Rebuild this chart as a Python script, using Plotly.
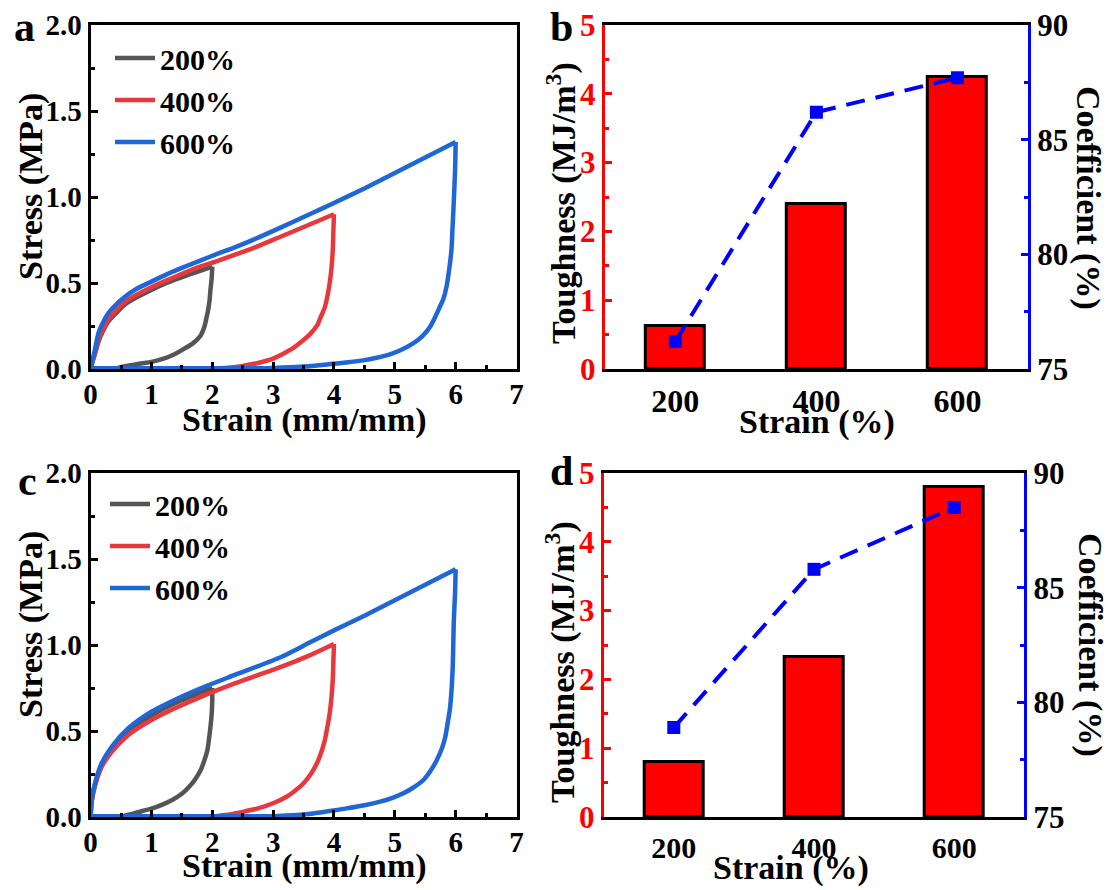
import plotly.graph_objects as go

W, H = 1111, 890

# ---------------- data ----------------
strain_labels = ["200%", "400%", "600%"]
line_colors = ["#555555", "#e8383d", "#1f66d6"]

# panel a: loading curves
a200_load_x = [0, 0.02, 0.07, 0.13, 0.21, 0.29, 0.42, 0.565, 0.75, 1.0, 1.25, 1.55, 1.8, 2.0]
a200_load_y = [0, 0.03, 0.085, 0.16, 0.225, 0.275, 0.325, 0.375, 0.415, 0.46, 0.50, 0.54, 0.57, 0.595]
a400_load_x = [0, 0.02, 0.07, 0.13, 0.21, 0.29, 0.42, 0.565, 0.75, 1.0, 1.25, 1.55, 1.8, 2.1, 2.4, 2.65, 3.14, 3.6, 4.0]
a400_load_y = [0, 0.03, 0.09, 0.17, 0.235, 0.286, 0.34, 0.39, 0.43, 0.475, 0.515, 0.56, 0.595, 0.63, 0.668, 0.70, 0.772, 0.84, 0.90]
a600_load_x = [0, 0.02, 0.07, 0.13, 0.21, 0.29, 0.42, 0.565, 0.75, 1.0, 1.25, 1.55, 1.8, 2.1, 2.4, 2.65, 3.14, 3.6, 4.0, 4.5, 5.0, 5.5, 6.0]
a600_load_y = [0, 0.035, 0.11, 0.21, 0.275, 0.324, 0.375, 0.42, 0.465, 0.508, 0.55, 0.595, 0.63, 0.672, 0.712, 0.748, 0.825, 0.90, 0.965, 1.05, 1.14, 1.23, 1.32]
# panel a: unloading curves
a200_unload_x = [2.0, 1.99, 1.97, 1.955, 1.93, 1.9, 1.87, 1.8, 1.68, 1.5, 1.35, 1.2, 1.02, 0.8, 0.63, 0.45]
a200_unload_y = [0.595, 0.53, 0.46, 0.40, 0.34, 0.29, 0.246, 0.19, 0.149, 0.11, 0.081, 0.06, 0.043, 0.03, 0.02, 0.008]
a400_unload_x = [4.0, 3.99, 3.98, 3.96, 3.93, 3.89, 3.85, 3.78, 3.72, 3.6, 3.5, 3.3, 3.0, 2.75, 2.5, 2.25, 2.05]
a400_unload_y = [0.90, 0.80, 0.69, 0.59, 0.50, 0.42, 0.36, 0.30, 0.252, 0.20, 0.169, 0.115, 0.06, 0.035, 0.018, 0.008, 0.004]
a600_unload_x = [6.0, 5.99, 5.97, 5.95, 5.93, 5.89, 5.85, 5.8, 5.74, 5.66, 5.58, 5.45, 5.3, 5.1, 4.92, 4.7, 4.48, 4.2, 3.9, 3.5, 3.0, 2.5, 1.5, 0.5, 0.0]
a600_unload_y = [1.32, 1.15, 0.98, 0.83, 0.69, 0.57, 0.479, 0.41, 0.362, 0.30, 0.246, 0.19, 0.149, 0.11, 0.085, 0.065, 0.05, 0.038, 0.027, 0.014, 0.006, 0.004, 0.004, 0.004, 0.004]

# panel c: loading curves
c200_load_x = [0, 0.018, 0.072, 0.18, 0.35, 0.62, 1.0, 1.44, 1.75, 2.0]
c200_load_y = [0, 0.095, 0.19, 0.30, 0.395, 0.497, 0.59, 0.67, 0.715, 0.75]
c400_load_x = [0, 0.018, 0.072, 0.18, 0.35, 0.62, 1.0, 1.44, 1.88, 2.37, 3.14, 3.6, 4.0]
c400_load_y = [0, 0.09, 0.18, 0.29, 0.38, 0.477, 0.564, 0.641, 0.709, 0.777, 0.874, 0.94, 1.006]
c600_load_x = [0, 0.018, 0.072, 0.18, 0.35, 0.62, 1.0, 1.44, 1.88, 2.37, 3.14, 3.6, 4.0, 4.5, 5.0, 5.5, 6.0]
c600_load_y = [0, 0.099, 0.196, 0.312, 0.41, 0.516, 0.612, 0.69, 0.758, 0.826, 0.932, 1.014, 1.085, 1.17, 1.26, 1.35, 1.44]
# panel c: unloading curves
c200_unload_x = [2.0, 2.0, 1.99, 1.97, 1.92, 1.87, 1.81, 1.72, 1.62, 1.5, 1.34, 1.18, 1.01, 0.85, 0.7, 0.55]
c200_unload_y = [0.75, 0.68, 0.60, 0.525, 0.39, 0.33, 0.273, 0.22, 0.176, 0.135, 0.099, 0.072, 0.05, 0.035, 0.02, 0.008]
c400_unload_x = [4.0, 3.99, 3.98, 3.96, 3.93, 3.89, 3.85, 3.79, 3.72, 3.62, 3.5, 3.35, 3.22, 3.0, 2.75, 2.5, 2.25, 2.05]
c400_unload_y = [1.006, 0.90, 0.797, 0.70, 0.603, 0.52, 0.448, 0.375, 0.312, 0.25, 0.196, 0.15, 0.118, 0.08, 0.05, 0.03, 0.013, 0.005]
c600_unload_x = [6.0, 5.99, 5.97, 5.95, 5.91, 5.87, 5.83, 5.77, 5.69, 5.59, 5.47, 5.3, 5.14, 4.95, 4.76, 4.5, 4.21, 3.9, 3.66, 3.3, 3.0, 2.0, 1.0, 0.0]
c600_unload_y = [1.44, 1.30, 1.145, 0.855, 0.641, 0.55, 0.467, 0.395, 0.331, 0.27, 0.215, 0.17, 0.138, 0.11, 0.089, 0.068, 0.05, 0.033, 0.021, 0.01, 0.005, 0.004, 0.004, 0.004]

# panels b and d
strain_cats = ["200", "400", "600"]
b_toughness = [0.63, 2.40, 4.25]
b_coefficient = [76.2, 86.2, 87.7]
d_toughness = [0.80, 2.33, 4.79]
d_coefficient = [78.9, 85.8, 88.5]

# ---------------- helpers ----------------
FONT = "Liberation Serif"


def fx(px):
    return px / W


def fy(py):
    return 1 - py / H


def bfont(size, color="black"):
    return dict(family=FONT, size=size, color=color, weight="bold")


fig = go.Figure()

panel_a = [(a200_load_x, a200_load_y, a200_unload_x, a200_unload_y),
           (a400_load_x, a400_load_y, a400_unload_x, a400_unload_y),
           (a600_load_x, a600_load_y, a600_unload_x, a600_unload_y)]
panel_c = [(c200_load_x, c200_load_y, c200_unload_x, c200_unload_y),
           (c400_load_x, c400_load_y, c400_unload_x, c400_unload_y),
           (c600_load_x, c600_load_y, c600_unload_x, c600_unload_y)]

for data, xa, ya, leg, grp in [(panel_a, "x", "y", "legend", "a"), (panel_c, "x3", "y4", "legend2", "c")]:
    for lbl, col, (lx, ly, ux, uy) in zip(strain_labels, line_colors, data):
        fig.add_trace(go.Scatter(x=lx, y=ly, mode="lines", name=lbl, legendgroup=grp + lbl,
                                 line=dict(color=col, width=4.5, shape="spline", smoothing=0.7),
                                 xaxis=xa, yaxis=ya, legend=leg))
        fig.add_trace(go.Scatter(x=ux, y=uy, mode="lines", name=lbl, legendgroup=grp + lbl, showlegend=False,
                                 line=dict(color=col, width=4.5, shape="spline", smoothing=0.7),
                                 xaxis=xa, yaxis=ya, legend=leg))

# panel b
fig.add_trace(go.Bar(x=strain_cats, y=b_toughness, width=0.42, marker=dict(color="#ff0000", line=dict(color="black", width=3)),
                     xaxis="x2", yaxis="y2", showlegend=False))
fig.add_trace(go.Scatter(x=strain_cats, y=b_coefficient, mode="lines+markers",
                         line=dict(color="#0000ff", width=4, dash="19px,11px"),
                         marker=dict(symbol="square", size=13, color="#0000ff"),
                         xaxis="x2", yaxis="y3", showlegend=False))
# panel d
fig.add_trace(go.Bar(x=strain_cats, y=d_toughness, width=0.42, marker=dict(color="#ff0000", line=dict(color="black", width=3)),
                     xaxis="x4", yaxis="y5", showlegend=False))
fig.add_trace(go.Scatter(x=strain_cats, y=d_coefficient, mode="lines+markers",
                         line=dict(color="#0000ff", width=4, dash="19px,11px"),
                         marker=dict(symbol="square", size=13, color="#0000ff"),
                         xaxis="x4", yaxis="y6", showlegend=False))

TICKF = bfont(29)


def stress_x(domain, anchor):
    return dict(domain=domain, anchor=anchor, range=[0, 7], dtick=1, tick0=0, automargin=False,
                ticks="inside", ticklen=7, tickwidth=2.5, tickcolor="black",
                minor=dict(dtick=0.5, ticks="inside", ticklen=4, tickwidth=2.5, tickcolor="black"),
                showline=True, linewidth=3, linecolor="black", mirror=True,
                showgrid=False, zeroline=False, tickfont=TICKF, ticklabelstandoff=-3)


def stress_y(domain, anchor):
    return dict(domain=domain, anchor=anchor, range=[0, 2], dtick=0.5, tick0=0, tickformat=".1f",
                automargin=False,
                ticks="inside", ticklen=7, tickwidth=2.5, tickcolor="black",
                minor=dict(dtick=0.25, ticks="inside", ticklen=4, tickwidth=2.5, tickcolor="black"),
                showline=True, linewidth=3, linecolor="black", mirror=True,
                showgrid=False, zeroline=False, tickfont=TICKF, ticklabelstandoff=0)


def bar_x(domain, anchor, size):
    return dict(domain=domain, anchor=anchor, type="category", range=[-0.5, 2.5], automargin=False,
                showline=True, linewidth=3, linecolor="black", mirror=True, ticks="",
                showgrid=False, zeroline=False, tickfont=bfont(size), ticklabelstandoff=2)


def tough_y(domain, anchor):
    return dict(domain=domain, anchor=anchor, range=[0, 5], dtick=1, tick0=0, automargin=False,
                ticks="inside", ticklen=7, tickwidth=2.5, tickcolor="#ff0000",
                minor=dict(dtick=0.5, ticks="inside", ticklen=4, tickwidth=2.5, tickcolor="#ff0000"),
                showline=True, linewidth=3, linecolor="#ff0000",
                showgrid=False, zeroline=False, tickfont=bfont(31, "#ff0000"), ticklabelstandoff=0)


def coef_y(overlay, anchor):
    return dict(overlaying=overlay, anchor=anchor, side="right", range=[75, 90], dtick=5, tick0=75,
                automargin=False,
                ticks="inside", ticklen=7, tickwidth=2.5, tickcolor="#0000ff",
                minor=dict(dtick=2.5, ticks="inside", ticklen=4, tickwidth=2.5, tickcolor="#0000ff"),
                showline=True, linewidth=3, linecolor="#0000ff",
                showgrid=False, zeroline=False, tickfont=bfont(31), ticklabelstandoff=0)


dom_ax = [fx(90.6), fx(516.5)]
dom_bx = [fx(604.8), fx(1028)]
dom_dx = [fx(603.7), fx(1024.3)]
dom_top = [fy(369), fy(25)]
dom_bot = [fy(817), fy(473)]

fig.update_layout(
    width=W, height=H,
    margin=dict(l=0, r=0, t=0, b=0, autoexpand=False),
    paper_bgcolor="white", plot_bgcolor="white",
    font=bfont(29),
    bargap=0,
    xaxis=stress_x(dom_ax, "y"),
    yaxis=stress_y(dom_top, "x"),
    xaxis2=bar_x(dom_bx, "y2", 32),
    yaxis2=tough_y(dom_top, "x2"),
    yaxis3=coef_y("y2", "x2"),
    xaxis3=stress_x(dom_ax, "y4"),
    yaxis4=stress_y(dom_bot, "x3"),
    xaxis4=bar_x(dom_dx, "y5", 30),
    yaxis5=tough_y(dom_bot, "x4"),
    yaxis6=coef_y("y5", "x4"),
    legend=dict(x=fx(110), y=fy(32), xanchor="left", yanchor="top", bgcolor="rgba(0,0,0,0)",
                borderwidth=0, font=bfont(30), tracegroupgap=0, itemwidth=40),
    legend2=dict(x=fx(105), y=fy(478), xanchor="left", yanchor="top", bgcolor="rgba(0,0,0,0)",
                 borderwidth=0, font=bfont(30), tracegroupgap=0, itemwidth=40),
    showlegend=True,
)

ann = []


def add_text(text, x, y, size=34, angle=0, color="black"):
    ann.append(dict(text=text, x=fx(x), y=fy(y), xref="paper", yref="paper", showarrow=False,
                    xanchor="center", yanchor="middle", textangle=angle, font=bfont(size, color)))


# panel letters
add_text("a", 24, 27, 42)
add_text("b", 561, 27, 42)
add_text("c", 27, 481, 42)
add_text("d", 561, 471, 42)

# axis titles
add_text("Stress (MPa)", 31, 187, 34, -90)
add_text("Strain (mm/mm)", 304, 420, 34)
add_text("Toughness (MJ/m<sup>3</sup>)", 561, 203, 34, -90)
add_text("Coefficient (%)", 1088, 198, 34, 90)
add_text("Strain (%)", 817, 422, 34)

add_text("Stress (MPa)", 31, 625, 34, -90)
add_text("Strain (mm/mm)", 304, 866, 34)
add_text("Toughness (MJ/m<sup>3</sup>)", 560, 662, 34, -90)
add_text("Coefficient (%)", 1090, 645, 34, 90)
add_text("Strain (%)", 791, 868, 34)

fig.update_layout(annotations=ann)

fig.write_html("out.html")
